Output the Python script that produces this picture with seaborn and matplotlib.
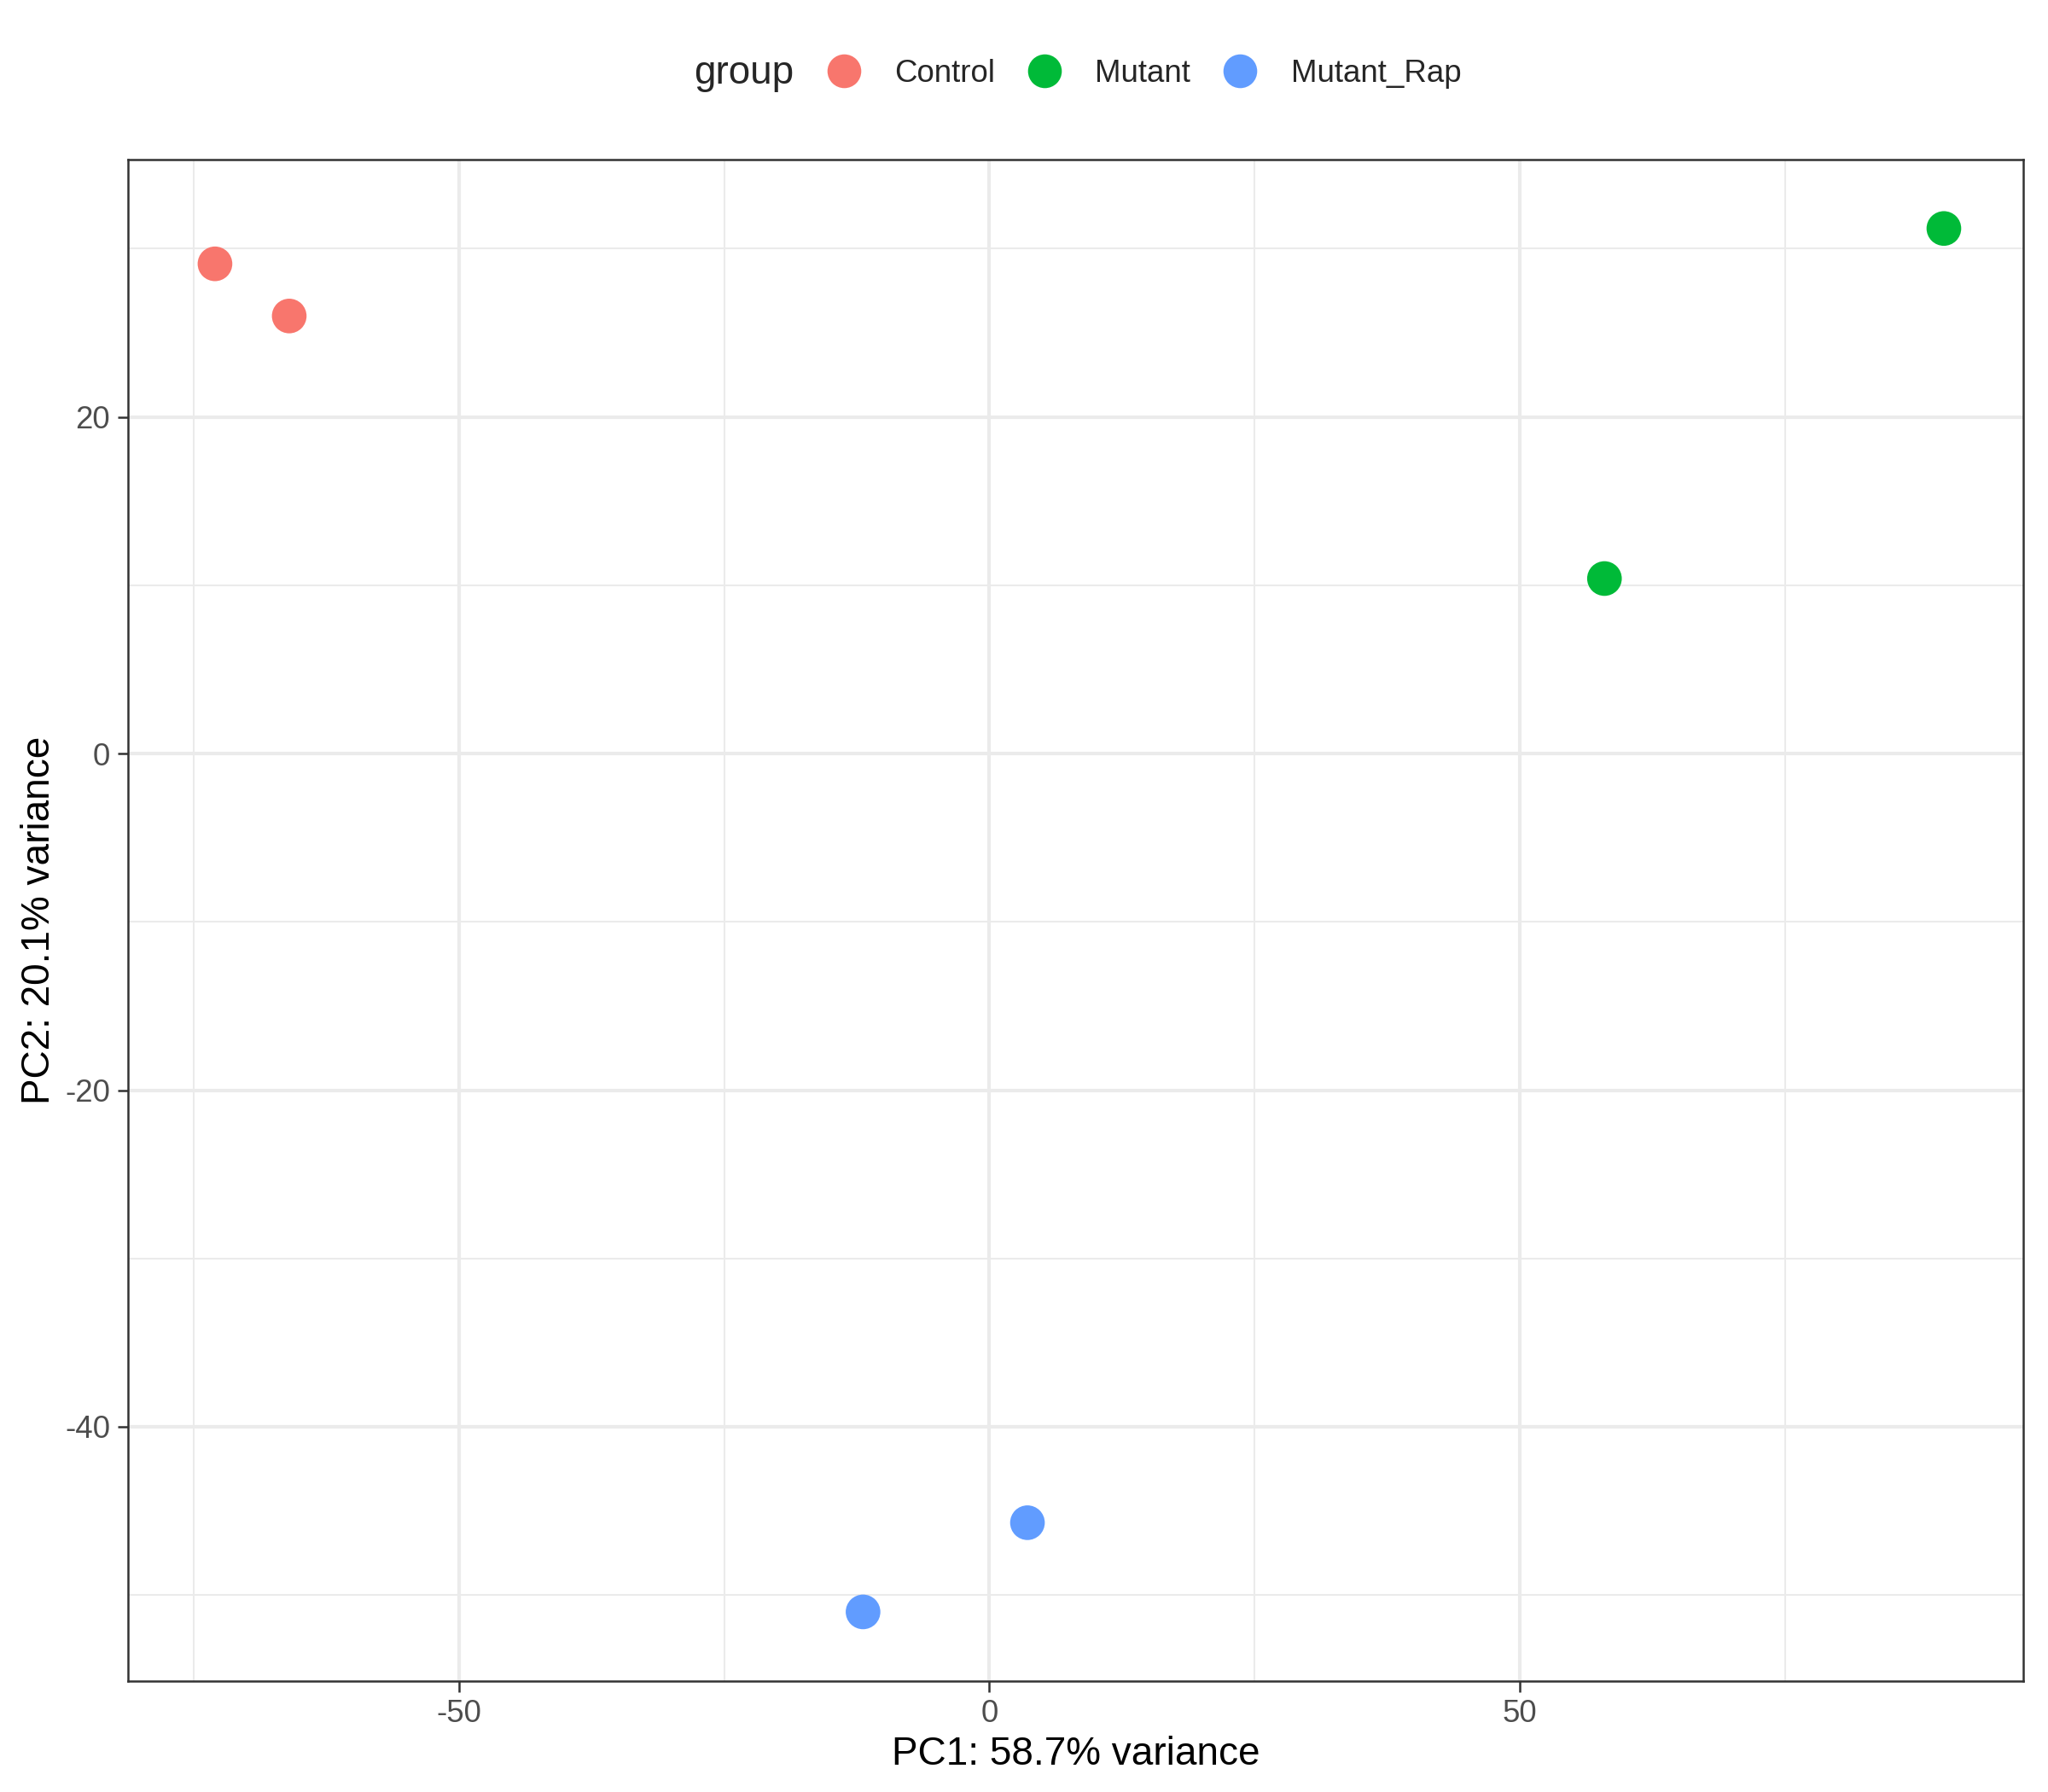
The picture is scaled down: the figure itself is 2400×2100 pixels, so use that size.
import seaborn as sns
import matplotlib.pyplot as plt
import pandas as pd
from matplotlib.lines import Line2D
from matplotlib.ticker import MultipleLocator

groups = ["Control", "Control", "Mutant", "Mutant", "Mutant_Rap", "Mutant_Rap"]
pc1 = [-73.0, -66.0, 90.0, 58.0, 3.6, -11.9]
pc2 = [29.1, 26.0, 31.2, 10.4, -45.7, -51.0]
group_order = ["Control", "Mutant", "Mutant_Rap"]
group_colors = ["#F8766D", "#00BA38", "#619CFF"]

df = pd.DataFrame({"PC1": pc1, "PC2": pc2, "group": groups})

sns.set_theme(style="white")
plt.rcParams["font.family"] = ["Liberation Sans", "DejaVu Sans"]
plt.rcParams["axes.unicode_minus"] = False

fig = plt.figure(figsize=(8, 7), dpi=300)
ax = fig.add_axes([0.0625, 0.062, 0.9255, 0.849])

palette = dict(zip(group_order, group_colors))
sns.scatterplot(data=df, x="PC1", y="PC2", hue="group", hue_order=group_order,
                palette=palette, s=95, linewidth=0, legend=False, ax=ax, zorder=3)

ax.set_xlim(-81.2, 97.5)
ax.set_ylim(-55.1, 35.3)
ax.xaxis.set_major_locator(MultipleLocator(50))
ax.xaxis.set_minor_locator(MultipleLocator(25))
ax.yaxis.set_major_locator(MultipleLocator(20))
ax.yaxis.set_minor_locator(MultipleLocator(10))
ax.grid(which="major", color="#EBEBEB", linewidth=1.0)
ax.grid(which="minor", color="#EBEBEB", linewidth=0.5)
ax.set_axisbelow(True)
for sp in ax.spines.values():
    sp.set_color("#333333")
    sp.set_linewidth(0.6)
ax.tick_params(which="major", length=3, width=0.6, color="#333333",
               labelsize=8.8, labelcolor="#4D4D4D", bottom=True, left=True, pad=2)
ax.tick_params(which="minor", length=0)

ax.set_xlabel("PC1: 58.7% variance", fontsize=11, color="black", labelpad=2)
ax.set_ylabel("PC2: 20.1% variance", fontsize=11, color="black", labelpad=2)

handles = [Line2D([], [], marker="o", linestyle="", markersize=9.5,
                  markerfacecolor=c, markeredgewidth=0) for c in group_colors]
fig.text(0.339, 0.959, "group", fontsize=11, ha="left", va="center")
fig.legend(handles, group_order, loc="center left", bbox_to_anchor=(0.389, 0.959),
           ncol=3, frameon=False, fontsize=8.8, handletextpad=1.02,
           columnspacing=0.98, handlelength=1.2)

fig.savefig("out.png", dpi=300)
